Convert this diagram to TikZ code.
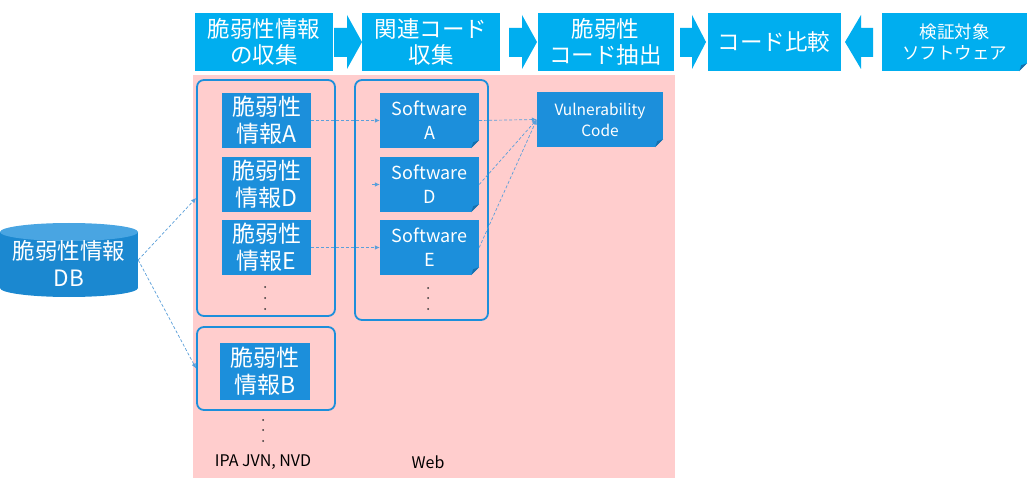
\documentclass[tikz,border=0pt]{standalone}
\usepackage{fontspec}
\setmainfont{Noto Sans CJK JP}
\usetikzlibrary{arrows.meta,calc}
\definecolor{topcyan}{HTML}{00AEEF}
\definecolor{itemblue}{HTML}{1C8FDB}
\definecolor{itemfold}{HTML}{1670AE}
\definecolor{panelpink}{HTML}{FFCDCD}
\definecolor{linkblue}{HTML}{5A9FDA}
\colorlet{dbbody}{itemblue!95!black}
\colorlet{dbtop}{itemblue!80!white}
\begin{document}
\begin{tikzpicture}[x=1pt,y=-1pt,
  stage/.style={fill=topcyan, text=white, minimum height=58pt, align=center,
    font=\fontsize{22.5}{26}\selectfont, inner sep=0pt},
  item/.style={fill=itemblue, text=white, minimum height=55pt, align=center,
    font=\fontsize{23}{27}\selectfont, inner sep=0pt},
  group/.style={draw=itemblue, line width=1.8pt, rounded corners=7pt, inner sep=0pt},
  link/.style={draw=linkblue, densely dashed, line width=0.7pt,
    -{Latex[length=5pt,width=4.5pt]}},
  dotmark/.style={fill=black!80},
  caption/.style={font=\fontsize{16}{18}\selectfont, text=black},
]
% canvas and working area
\fill[white] (0,0) rectangle (1035,478);
\fill[panelpink] (193,75) rectangle (675,478);

% folded corner: background cut plus darker flap
\def\foldcorner#1#2{%
  \fill[#2] ($(#1.south east)+(-8,0)$) -- (#1.south east) -- ($(#1.south east)+(0,-8)$) -- cycle;
  \fill[itemfold] ($(#1.south east)+(-8,0)$) -- ($(#1.south east)+(0,-8)$) -- ($(#1.south east)+(-6,-6)$) -- cycle;}

% process stages
\node[stage, minimum width=138pt] (collect) at (264,42) {脆弱性情報\\の収集};
\node[stage, minimum width=138pt] (related) at (431,42) {関連コード\\収集};
\node[stage, minimum width=136pt] (extract) at (605.5,42) {脆弱性\\コード抽出};
\node[stage, minimum width=133pt] (compare) at (774,42) {コード比較};
\node[stage, minimum width=145pt, font=\fontsize{17.5}{21}\selectfont] (target) at (954.5,42) {検証対象\\ソフトウェア};
\foldcorner{target}{white}

% block arrows between stages
\fill[topcyan] (334,28) -- (347,28) -- (347,15) -- (362,42) -- (347,69) -- (347,57) -- (334,57) -- cycle;
\fill[topcyan] (509,28) -- (522,28) -- (522,15) -- (537,42) -- (522,69) -- (522,57) -- (509,57) -- cycle;
\fill[topcyan] (680,28) -- (692,28) -- (692,15) -- (706,42) -- (692,69) -- (692,57) -- (680,57) -- cycle;
\fill[topcyan] (873,28) -- (861,28) -- (861,15) -- (845,42) -- (861,69) -- (861,57) -- (873,57) -- cycle;

% database drum: body, bottom rim, top face
\fill[dbbody] (0,232) rectangle (138,288);
\fill[dbbody] (69,288) ellipse [x radius=69pt, y radius=9pt];
\fill[dbtop] (69,232) ellipse [x radius=69pt, y radius=9pt];
\node[minimum width=138pt, minimum height=74pt, inner sep=0pt] (db) at (69,260) {};
\node[text=white, align=center, font=\fontsize{22.5}{27}\selectfont, inner sep=0pt]
  (dblabel) at ($(db.center)+(0,3)$) {脆弱性情報\\DB};

% groups
\node[group, minimum width=138pt, minimum height=236pt] (vulngroup) at (266,198) {};
\node[group, minimum width=138pt, minimum height=83pt] (bgroup) at (266,368.5) {};
\node[group, minimum width=133pt, minimum height=240pt] (swgroup) at (421.5,200) {};

% vulnerability entries
\node[item, minimum width=89pt] (infoA) at (266.5,120.5) {脆弱性\\情報A};
\node[item, minimum width=89pt] (infoD) at (266.5,184.5) {脆弱性\\情報D};
\node[item, minimum width=89pt] (infoE) at (266.5,247.5) {脆弱性\\情報E};
\node[item, minimum width=90pt, minimum height=57pt] (infoB) at (265,371.5) {脆弱性\\情報B};

% software entries
\node[item, minimum width=99pt, font=\fontsize{18}{24}\selectfont] (swA) at (429.5,120.5) {Software\\A};
\node[item, minimum width=99pt, font=\fontsize{18}{24}\selectfont] (swD) at (429.5,184.5) {Software\\D};
\node[item, minimum width=99pt, font=\fontsize{18}{24}\selectfont] (swE) at (429.5,247.5) {Software\\E};
\foldcorner{swA}{panelpink}
\foldcorner{swD}{panelpink}
\foldcorner{swE}{panelpink}

% extracted code
\node[item, minimum width=126pt, font=\fontsize{15.5}{21}\selectfont] (vcode) at (600,119.5) {Vulnerability\\Code};
\foldcorner{vcode}{panelpink}

% continuation dots
\foreach \yy in {287,298,309} \fill[dotmark] (265,\yy) circle (1pt);
\foreach \yy in {288,298,309} \fill[dotmark] (428,\yy) circle (1pt);
\foreach \yy in {420,430,441} \fill[dotmark] (263,\yy) circle (1pt);

% sources
\node[caption] (srcvuln) at (263,462) {IPA JVN, NVD};
\node[caption] (srcweb) at (428,462) {Web};

% links
\coordinate (dstub) at (372,184.5);
\draw[link] (db.east) -- (vulngroup.west);
\draw[link] (db.east) -- (bgroup.west);
\draw[link] (infoA.east) -- (swA.west);
\draw[link] (infoE.east) -- (swE.west);
\draw[link] (dstub) -- (swD.west);
\draw[link] (swA.east) -- (vcode.west);
\draw[link] (swD.east) -- (vcode.west);
\draw[link] (swE.east) -- (vcode.west);
\end{tikzpicture}
\end{document}
